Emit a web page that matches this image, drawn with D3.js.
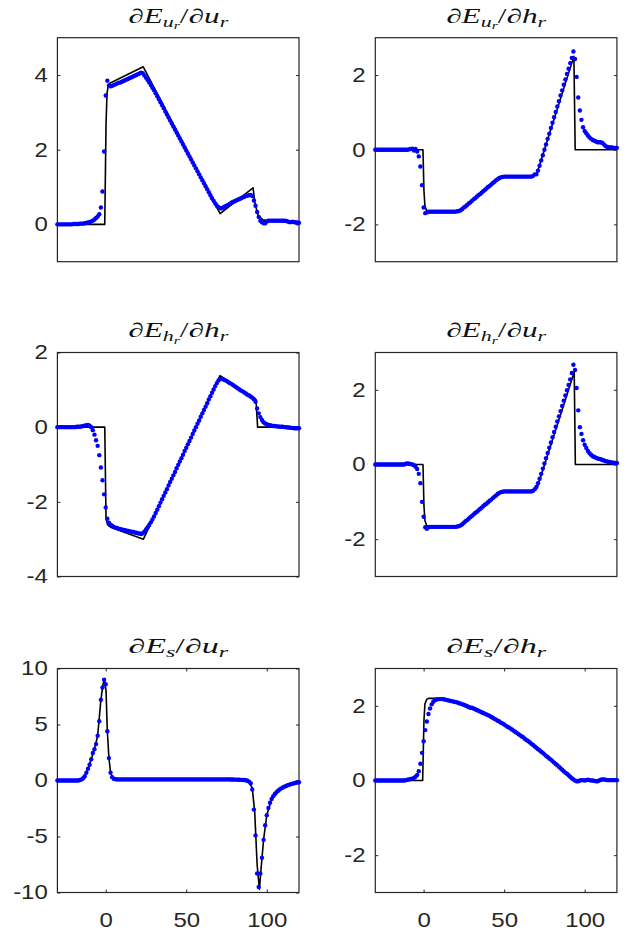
<!DOCTYPE html>
<html>
<head>
<meta charset="utf-8">
<script src="https://cdn.jsdelivr.net/npm/d3@7"></script>
<style>
  body { margin: 0; background: #fff; }
</style>
</head>
<body>
<div id="chart"></div>
<script>
// sample positions of the blue markers
const sampleX = [
  -30,-29,-28,-27,-26,-25,-24,-23,-22,-21,
  -20,-19,-18,-17,-16,-15,-14,-13,-12,-11,
  -10,-9,-8,-7,-6,-5,-4,-3,-2,-1,
  0,1,2,3,4,5,6,7,8,9,
  10,11,12,13,14,15,16,17,18,19,
  20,21,22,23,24,25,26,27,28,29,
  30,31,32,33,34,35,36,37,38,39,
  40,41,42,43,44,45,46,47,48,49,
  50,51,52,53,54,55,56,57,58,59,
  60,61,62,63,64,65,66,67,68,69,
  70,71,72,73,74,75,76,77,78,79,
  80,81,82,83,84,85,86,87,88,89,
  90,91,92,93,94,95,96,97,98,99,
  100,101,102,103,104,105,106,107,108,109,
  110,111,112,113,114,115,116,117,118,119,
  120
];

// dE_ur / d ur
const p1Dots = [
  0,0,0,0,0,0,0,0,0,0,
  0.01,0.01,0.01,0.01,0.02,0.02,0.02,0.03,0.04,0.05,
  0.06,0.08,0.1,0.13,0.17,0.21,0.27,0.45,0.88,1.95,
  3.45,3.85,3.72,3.7,3.71,3.73,3.75,3.77,3.79,3.8,
  3.82,3.84,3.86,3.88,3.9,3.92,3.94,3.96,3.98,4.0,
  4.02,4.04,4.06,4.05,3.99,3.93,3.87,3.8,3.73,3.66,
  3.59,3.51,3.43,3.35,3.27,3.19,3.11,3.02,2.94,2.86,
  2.78,2.7,2.62,2.54,2.46,2.38,2.3,2.22,2.14,2.06,
  1.98,1.9,1.82,1.74,1.66,1.58,1.5,1.42,1.34,1.26,
  1.18,1.1,1.02,0.94,0.86,0.78,0.7,0.63,0.56,0.5,
  0.46,0.43,0.43,0.45,0.48,0.5,0.52,0.55,0.58,0.6,
  0.62,0.64,0.66,0.68,0.7,0.72,0.74,0.76,0.77,0.78,
  0.79,0.76,0.64,0.5,0.33,0.2,0.1,0.06,0.03,0.03,
  0.08,0.1,0.1,0.1,0.1,0.1,0.1,0.1,0.1,0.1,
  0.1,0.1,0.09,0.08,0.06,0.06,0.07,0.06,0.05,0.05,
  0.04
];
const p1LineX = [-30,-0.6,0.2,0.8,1.5,2.5,23.3,71,91.5,92.5,94.5,97.5,100,110,120];
const p1LineY = [0,0,2.7,3.5,3.7,3.78,4.22,0.29,0.98,0.6,0.25,0.12,0.1,0.07,0.02];

// dE_ur / d hr
const p2Dots = [
  0,0,0,0,0,0,0,0,0,0,
  0,0,0,0,0,0,0,0,0,0,
  0,0.01,0.02,0.03,-0.02,0.02,-0.05,-0.18,-0.45,-0.95,
  -1.55,-1.7,-1.68,-1.66,-1.66,-1.66,-1.66,-1.66,-1.66,-1.66,
  -1.66,-1.66,-1.66,-1.66,-1.66,-1.66,-1.66,-1.66,-1.66,-1.66,
  -1.66,-1.65,-1.64,-1.62,-1.59,-1.55,-1.52,-1.48,-1.44,-1.41,
  -1.37,-1.33,-1.3,-1.26,-1.22,-1.19,-1.15,-1.11,-1.08,-1.04,
  -1.0,-0.97,-0.93,-0.89,-0.86,-0.82,-0.79,-0.76,-0.74,-0.73,
  -0.72,-0.72,-0.72,-0.72,-0.72,-0.72,-0.72,-0.72,-0.72,-0.72,
  -0.72,-0.72,-0.72,-0.72,-0.72,-0.72,-0.72,-0.72,-0.7,-0.66,
  -0.66,-0.56,-0.43,-0.29,-0.15,0.0,0.14,0.29,0.43,0.58,
  0.72,0.87,1.01,1.16,1.3,1.45,1.59,1.74,1.88,2.03,
  2.17,2.32,2.46,2.63,2.43,1.95,1.4,1.05,0.8,0.6,
  0.5,0.44,0.38,0.33,0.29,0.26,0.24,0.22,0.2,0.2,
  0.2,0.18,0.14,0.1,0.07,0.07,0.06,0.06,0.05,0.05,
  0.05
];
const p2LineX = [-30,-0.4,0.2,0.8,1.8,3.5,22,25,47,49.5,68,70.5,93.3,94.1,120];
const p2LineY = [0,0,-1.1,-1.5,-1.63,-1.66,-1.66,-1.57,-0.76,-0.72,-0.72,-0.62,2.5,0,0];

// dE_hr / d hr
const p3Dots = [
  0,0,0,0,0,0,0,0,0,0,
  0,0,0.01,0.01,0.01,0.02,0.03,0.04,0.05,0.06,
  0.04,0.0,-0.08,-0.2,-0.35,-0.5,-0.75,-1.08,-1.42,-1.8,
  -2.15,-2.45,-2.56,-2.61,-2.64,-2.67,-2.69,-2.7,-2.72,-2.73,
  -2.74,-2.75,-2.76,-2.77,-2.78,-2.79,-2.8,-2.81,-2.82,-2.83,
  -2.84,-2.85,-2.86,-2.84,-2.8,-2.74,-2.68,-2.62,-2.55,-2.47,
  -2.39,-2.3,-2.21,-2.12,-2.02,-1.93,-1.84,-1.75,-1.66,-1.56,
  -1.47,-1.38,-1.29,-1.2,-1.1,-1.01,-0.92,-0.83,-0.74,-0.64,
  -0.55,-0.46,-0.37,-0.28,-0.18,-0.09,0.0,0.09,0.18,0.28,
  0.37,0.46,0.55,0.64,0.74,0.83,0.92,1.01,1.1,1.18,
  1.25,1.29,1.3,1.28,1.26,1.24,1.21,1.18,1.16,1.13,
  1.1,1.07,1.04,1.01,0.98,0.96,0.93,0.9,0.87,0.85,
  0.82,0.79,0.75,0.68,0.5,0.37,0.27,0.19,0.13,0.1,
  0.08,0.06,0.05,0.04,0.03,0.03,0.02,0.02,0.01,0.01,
  0.01,0,0,-0.01,-0.01,-0.02,-0.02,-0.03,-0.03,-0.03,
  -0.03
];
const p3LineX = [-30,-0.6,0.2,1.2,3,23.4,71,93.3,94.3,120];
const p3LineY = [0,0,-2.45,-2.62,-2.68,-3.0,1.38,0.74,0,0];

// dE_hr / d ur
const p4Dots = [
  0,0,0,0,0,0,0,0,0,0,
  0,0,0,0,0,0,0,0,0,0.02,
  0.03,0.02,0.01,0.0,-0.02,-0.06,-0.12,-0.25,-0.5,-1.0,
  -1.4,-1.68,-1.72,-1.68,-1.67,-1.67,-1.67,-1.67,-1.67,-1.67,
  -1.67,-1.67,-1.67,-1.67,-1.67,-1.67,-1.67,-1.67,-1.67,-1.67,
  -1.67,-1.66,-1.65,-1.63,-1.6,-1.56,-1.52,-1.49,-1.45,-1.41,
  -1.38,-1.34,-1.3,-1.27,-1.23,-1.19,-1.16,-1.12,-1.08,-1.05,
  -1.01,-0.97,-0.94,-0.9,-0.86,-0.83,-0.79,-0.76,-0.74,-0.73,
  -0.72,-0.72,-0.72,-0.72,-0.72,-0.72,-0.72,-0.72,-0.72,-0.72,
  -0.72,-0.72,-0.72,-0.72,-0.72,-0.72,-0.72,-0.72,-0.7,-0.66,
  -0.6,-0.5,-0.38,-0.25,-0.11,0.03,0.17,0.31,0.45,0.59,
  0.73,0.87,1.01,1.15,1.29,1.43,1.57,1.71,1.85,1.99,
  2.13,2.28,2.45,2.67,2.53,2.05,1.45,1.0,0.82,0.65,
  0.53,0.44,0.36,0.3,0.26,0.22,0.2,0.18,0.16,0.15,
  0.14,0.12,0.11,0.09,0.08,0.07,0.06,0.05,0.05,0.04,
  0.04
];
const p4LineX = [-30,-0.4,0.2,0.8,1.8,3.5,22,25,47,49.5,68,70.5,93.5,94.2,120];
const p4LineY = [0,0,-1.1,-1.5,-1.63,-1.67,-1.67,-1.58,-0.76,-0.72,-0.72,-0.62,2.48,0,0];

// dE_s / d ur
const p5Dots = [
  0,0,0,0,0,0,0,0,0,0,
  0,0,0,0,0.05,0.1,0.2,0.38,0.7,1.05,
  1.4,1.9,2.45,2.8,3.25,4.0,5.3,7.2,8.3,9.0,
  8.6,4.4,2.0,0.7,0.3,0.15,0.12,0.1,0.1,0.1,
  0.1,0.1,0.1,0.1,0.1,0.1,0.1,0.1,0.1,0.1,
  0.1,0.1,0.1,0.1,0.1,0.1,0.1,0.1,0.1,0.1,
  0.1,0.1,0.1,0.1,0.1,0.1,0.1,0.1,0.1,0.1,
  0.1,0.1,0.1,0.1,0.1,0.1,0.1,0.1,0.1,0.1,
  0.1,0.1,0.1,0.1,0.1,0.1,0.1,0.1,0.1,0.1,
  0.1,0.1,0.1,0.1,0.1,0.1,0.1,0.1,0.1,0.1,
  0.1,0.1,0.1,0.1,0.1,0.1,0.1,0.1,0.09,0.09,
  0.08,0.08,0.07,0.07,0.06,0.05,0.04,0.02,-0.02,-0.1,
  -0.25,-0.8,-2.6,-4.9,-8.3,-9.5,-8.3,-6.9,-5.3,-4.0,
  -3.1,-2.45,-1.98,-1.65,-1.4,-1.2,-1.05,-0.92,-0.8,-0.7,
  -0.62,-0.55,-0.48,-0.42,-0.37,-0.32,-0.28,-0.24,-0.2,-0.18,
  -0.15
];
const p5LineX = [-30,-17,-15,-13,-11,-9,-7,-5,-3,-1.8,-0.8,0.2,1,2,3,4.5,6,86,89,91,92.5,94,95.4,96.8,98,100,103,108,114,120];
const p5LineY = [0,0,0.1,0.38,1.05,1.9,2.8,4.0,7.2,8.5,9.05,8.0,4.4,2.0,0.7,0.15,0.1,0.05,-0.1,-0.7,-2.8,-7.5,-9.7,-7.3,-5.3,-3.1,-1.65,-0.8,-0.37,-0.15];

// dE_s / d hr
const p6Dots = [
  0,0,0,0,0,0,0,0,0,0,
  0,0,0,0,0,0,0,0,0,0.01,
  0.02,0.03,0.04,0.05,0.07,0.1,0.15,0.25,0.45,0.74,
  1.05,1.35,1.58,1.78,1.93,2.04,2.11,2.15,2.17,2.18,
  2.18,2.18,2.18,2.17,2.16,2.15,2.14,2.13,2.12,2.11,
  2.1,2.09,2.07,2.06,2.04,2.03,2.01,1.99,1.97,1.95,
  1.95,1.93,1.91,1.89,1.87,1.85,1.83,1.81,1.79,1.77,
  1.75,1.73,1.7,1.68,1.65,1.63,1.6,1.58,1.55,1.53,
  1.5,1.47,1.44,1.42,1.39,1.36,1.33,1.3,1.27,1.24,
  1.21,1.18,1.15,1.11,1.08,1.05,1.02,0.98,0.95,0.91,
  0.88,0.84,0.81,0.77,0.74,0.7,0.66,0.63,0.59,0.56,
  0.52,0.48,0.44,0.41,0.37,0.33,0.29,0.25,0.21,0.18,
  0.14,0.1,0.06,0.03,0.0,-0.02,-0.02,0.0,0.01,0.01,
  0.0,0.01,0.02,0.01,0.0,0.0,-0.01,-0.02,-0.02,0.0,
  0.02,0.03,0.03,0.02,0.01,0.01,0.01,0.01,0.01,0.01,
  0.01
];
const p6LineX = [-30,-0.6,0.2,0.8,2,3,7,10,20,30,40,50,60,70,80,90,94.5,120];
const p6LineY = [0,0,1.6,2.05,2.18,2.2,2.2,2.18,2.1,1.95,1.75,1.5,1.21,0.88,0.52,0.14,0,0];

// axis limits and tick labels
const xDomain = [-30, 120];
const xTicks = [0, 50, 100];
const yDomains = [[-1, 5], [-3, 3], [-4, 2], [-3, 3], [-10, 10], [-3, 3]];
const yTicks = [[0, 2, 4], [-2, 0, 2], [-4, -2, 0, 2], [-2, 0, 2], [-10, -5, 0, 5, 10], [-2, 0, 2]];

// titles: [text, level] level 0 base, 1 subscript, 2 sub-subscript
const titles = [
  [["∂E", 0], ["u", 1], ["r", 2], ["/", 0], ["∂u", 0], ["r", 1]],
  [["∂E", 0], ["u", 1], ["r", 2], ["/", 0], ["∂h", 0], ["r", 1]],
  [["∂E", 0], ["h", 1], ["r", 2], ["/", 0], ["∂h", 0], ["r", 1]],
  [["∂E", 0], ["h", 1], ["r", 2], ["/", 0], ["∂u", 0], ["r", 1]],
  [["∂E", 0], ["s", 1], ["/", 0], ["∂u", 0], ["r", 1]],
  [["∂E", 0], ["s", 1], ["/", 0], ["∂h", 0], ["r", 1]]
];

const panels = [
  { dots: p1Dots, lx: p1LineX, ly: p1LineY },
  { dots: p2Dots, lx: p2LineX, ly: p2LineY },
  { dots: p3Dots, lx: p3LineX, ly: p3LineY },
  { dots: p4Dots, lx: p4LineX, ly: p4LineY },
  { dots: p5Dots, lx: p5LineX, ly: p5LineY },
  { dots: p6Dots, lx: p6LineX, ly: p6LineY }
];

const colLeft = [57.4, 375.3],
    rowTop = [37.7, 352.5, 668.5],
    plotW = 241.6,
    plotH = 224;

const axisColor = "#262626",
    labelFont = "'Liberation Sans', Arial, Helvetica, sans-serif",
    titleFont = "'Liberation Serif', 'Times New Roman', serif";

const svg = d3.select("#chart")
  .append("svg")
  .attr("width", 626)
  .attr("height", 931);

const levelSize = [20, 14, 10];
const levelShift = [0, 4, 6.5];
const tickText = d => String(d);

function drawTitle(tokens, cx, baseY) {
  const t = svg.append("text")
    .attr("x", 0)
    .attr("y", baseY)
    .attr("text-anchor", "middle")
    .attr("font-family", titleFont)
    .attr("fill", "#111");
  let prev = 0;
  tokens.forEach(([s, lvl]) => {
    t.append("tspan")
      .attr("dy", levelShift[lvl] - prev)
      .attr("font-size", levelSize[lvl])
      .attr("font-style", s === "/" ? "normal" : "italic")
      .text(s);
    prev = levelShift[lvl];
  });
  const w = t.node().getComputedTextLength();
  const sx = w > 0 ? 100 / w : 1;
  t.attr("transform", `translate(${cx},0) scale(${sx},1)`);
}

function styleAxis(ga) {
  ga.attr("font-family", labelFont).attr("font-size", 20).attr("color", axisColor);
  ga.select(".domain").remove();
}

panels.forEach((p, i) => {
  const col = i % 2, row = Math.floor(i / 2);
  const left = colLeft[col], top = rowTop[row];

  const x = d3.scaleLinear().domain(xDomain).range([left, left + plotW]);
  const y = d3.scaleLinear().domain(yDomains[i]).range([top + plotH, top]);

  const g = svg.append("g");

  // y ticks, inside, both sides
  const gl = g.append("g")
    .attr("transform", `translate(${left},0)`)
    .call(d3.axisLeft(y).tickValues(yTicks[i]).tickFormat(tickText)
      .tickSizeInner(-3).tickSizeOuter(0).tickPadding(8));
  styleAxis(gl);
  gl.selectAll("text").attr("transform", "scale(1.2,1)");

  const gr = g.append("g")
    .attr("transform", `translate(${left + plotW},0)`)
    .call(d3.axisRight(y).tickValues(yTicks[i]).tickSizeInner(-3).tickSizeOuter(0).tickFormat(""));
  styleAxis(gr);

  if (row === 2) {
    const gb = g.append("g")
      .attr("transform", `translate(0,${top + plotH})`)
      .call(d3.axisBottom(x).tickValues(xTicks).tickFormat(tickText)
        .tickSizeInner(-3).tickSizeOuter(0).tickPadding(20));
    styleAxis(gb);
    gb.selectAll("text").attr("transform", "scale(1.2,1)");
    const gt = g.append("g")
      .attr("transform", `translate(0,${top})`)
      .call(d3.axisTop(x).tickValues(xTicks).tickSizeInner(-3).tickSizeOuter(0).tickFormat(""));
    styleAxis(gt);
  }

  // box
  g.append("rect")
    .attr("x", left)
    .attr("y", top)
    .attr("width", plotW)
    .attr("height", plotH)
    .attr("fill", "none")
    .attr("stroke", axisColor)
    .attr("stroke-width", 1.2);

  // exact solution
  g.append("path")
    .datum(d3.zip(p.lx, p.ly))
    .attr("fill", "none")
    .attr("stroke", "#000")
    .attr("stroke-width", 1.6)
    .attr("stroke-linejoin", "round")
    .attr("d", d3.line().x(d => x(d[0])).y(d => y(d[1])));

  // learned values
  g.selectAll("circle")
    .data(d3.zip(sampleX, p.dots))
    .join("circle")
    .attr("cx", d => x(d[0]))
    .attr("cy", d => y(d[1]))
    .attr("r", 2.2)
    .attr("fill", "#0000ff");

  drawTitle(titles[i], left + plotW / 2, top - 15);
});
</script>
</body>
</html>
